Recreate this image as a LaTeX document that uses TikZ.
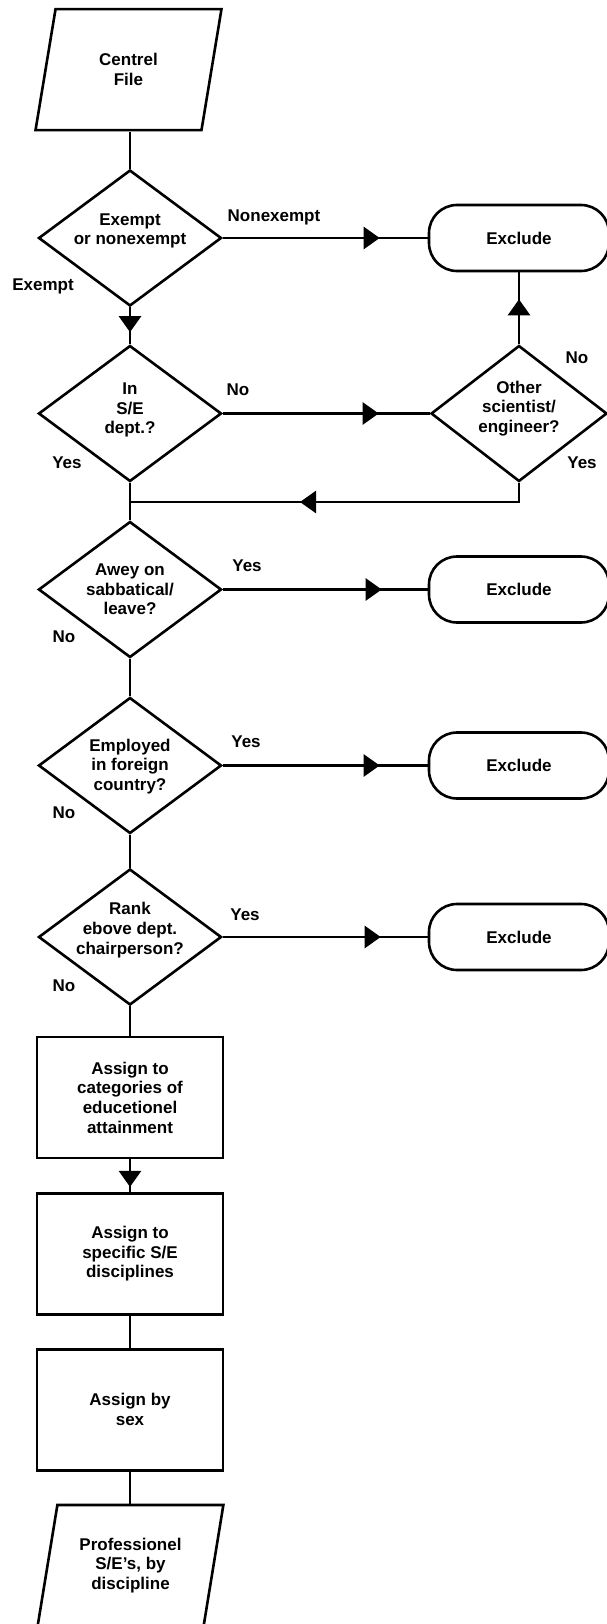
\documentclass[tikz,border=0pt]{standalone}
\usepackage{fontspec}
\setmainfont{Liberation Sans}
\usetikzlibrary{shapes.geometric,arrows.meta,decorations.markings}
\newcommand\dfont{\fontsize{17}{19.7}\selectfont\bfseries}
\begin{document}
\begin{tikzpicture}[x=1pt,y=-1pt,
  lw/.style={line width=2.6pt},
  base/.style={draw, lw, font=\dfont, align=center, inner sep=0pt},
  para/.style={base, trapezium, trapezium left angle=76, trapezium right angle=104, trapezium stretches=true, minimum width=186pt, minimum height=121pt},
  dia/.style={draw, lw, diamond, minimum width=183pt, minimum height=136pt, inner sep=0pt},
  dtext/.style={font=\dfont, align=center},
  excl/.style={base, rounded corners=28pt, minimum width=180pt, minimum height=66pt},
  pbox/.style={base, minimum width=186pt, minimum height=121pt},
  lbl/.style={font=\dfont, inner sep=0pt},
  conn/.style={lw},
  marr/.style={postaction={decorate}, decoration={markings, mark=at position #1 with {\arrow{Triangle[length=16pt,width=22pt]}}}},
]
\useasboundingbox (0,0) rectangle (607,1624);

% nodes
\node[para] (cf) at (128.5,69.7) {Centrel\\File};
\node[dia, label={[dtext,yshift=7pt]center:Exempt\\or nonexempt}] (d1) at (130,238) {};
\node[excl] (ex1) at (519,238) {Exclude};
\node[dia, label={[dtext,yshift=3.5pt]center:In\\S/E\\dept.?}] (d2) at (130,413.5) {};
\node[dia, minimum width=176pt, label={[dtext,yshift=5pt]center:Other\\scientist/\\engineer?}] (d6) at (519,413.5) {};
\node[dia, label={[dtext]center:Awey on\\sabbatical/\\leave?}] (d3) at (130,589.5) {};
\node[excl] (ex2) at (519,589.5) {Exclude};
\node[dia, label={[dtext,yshift=-1pt]center:Employed\\in foreign\\country?}] (d4) at (130,765.5) {};
\node[excl] (ex3) at (519,765.5) {Exclude};
\node[dia, label={[dtext,yshift=7pt]center:Rank\\ebove dept.\\chairperson?}] (d5) at (130,937) {};
\node[excl] (ex4) at (519,937) {Exclude};
\node[pbox] (b1) at (130,1097.5) {Assign to\\categories of\\educetionel\\attainment};
\node[pbox] (b2) at (130,1253.7) {Assign to\\specific S/E\\disciplines};
\node[pbox] (b3) at (130,1409.7) {Assign by\\sex};
\node[para] (pf) at (130.5,1565.5) {Professionel\\S/E's, by\\discipline};

% labels
\node[lbl] (l1) at (274,217) {Nonexempt};
\node[lbl] (l2) at (43,286) {Exempt};
\node[lbl] (l3) at (238,390) {No};
\node[lbl] (l4) at (67,463) {Yes};
\node[lbl] (l5) at (577,358) {No};
\node[lbl] (l6) at (582,463) {Yes};
\node[lbl] (l7) at (247,566) {Yes};
\node[lbl] (l8) at (64,637) {No};
\node[lbl] (l9) at (246,742) {Yes};
\node[lbl] (l10) at (64,813) {No};
\node[lbl] (l11) at (245,915) {Yes};
\node[lbl] (l12) at (64,986) {No};

% connectors
\coordinate (j) at (130,502);
\draw[conn] (d1.north |- cf.south) -- (d1.north);
\draw[conn, marr=-48pt] (d1.east) -- (ex1.west);
\draw[conn, marr=-12pt] (d1.south) -- (d2.north);
\draw[conn, marr=-51pt] (d2.east) -- (d6.west);
\draw[conn, marr=-27pt] (d6.north) -- (ex1.south);
\draw[conn, marr=-170pt] (d6.south) |- (j);
\draw[conn] (d2.south) -- (d3.north);
\draw[conn, marr=-46pt] (d3.east) -- (ex2.west);
\draw[conn] (d3.south) -- (d4.north);
\draw[conn, marr=-48pt] (d4.east) -- (ex3.west);
\draw[conn] (d4.south) -- (d5.north);
\draw[conn, marr=-47pt] (d5.east) -- (ex4.west);
\draw[conn] (d5.south) -- (b1.north);
\draw[conn, marr=-5pt] (b1.south) -- (b2.north);
\draw[conn] (b2.south) -- (b3.north);
\draw[conn] (b3.south) -- (b3.south |- pf.north);
\end{tikzpicture}
\end{document}
